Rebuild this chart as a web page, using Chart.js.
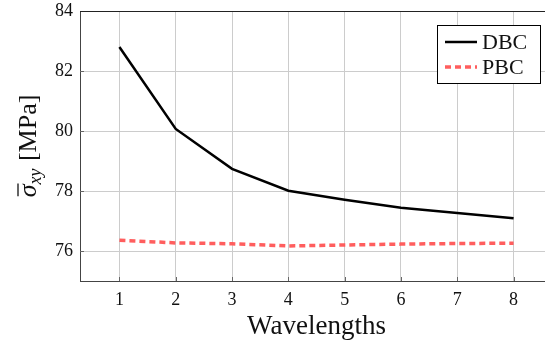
<!DOCTYPE html>
<html>
<head>
<meta charset="utf-8">
<script src="https://cdn.jsdelivr.net/npm/chart.js@4"></script>
<style>
  html, body { margin: 0; padding: 0; overflow: hidden; background: #fff; }
  #wrap { width: 553px; height: 343px; }
</style>
</head>
<body>
<div id="wrap"><canvas id="myChart" width="553" height="343"></canvas></div>
<script>
const wavelengths = [1, 2, 3, 4, 5, 6, 7, 8];
const dbcValues = [82.80, 80.07, 78.74, 78.01, 77.71, 77.44, 77.27, 77.09];
const pbcValues = [76.36, 76.27, 76.24, 76.17, 76.20, 76.23, 76.25, 76.26];
const yTicks = [76, 78, 80, 82, 84];

const serif = "'Liberation Serif', 'DejaVu Serif', serif";

// y title with overline sigma and subscript, plus boxed legend and inner tick marks
const extras = {
    id: 'extras',
    afterDraw(chart) {
        const ctx = chart.ctx;
        const area = chart.chartArea;
        const xs = chart.scales.x, ys = chart.scales.y;
        ctx.save();

        // inner tick marks
        ctx.strokeStyle = '#666';
        ctx.lineWidth = 1;
        wavelengths.forEach(v => {
            const px = Math.round(xs.getPixelForValue(v)) + 0.5;
            ctx.beginPath();
            ctx.moveTo(px, area.bottom);
            ctx.lineTo(px, area.bottom - 4);
            ctx.stroke();
        });
        yTicks.forEach(v => {
            const py = Math.round(ys.getPixelForValue(v)) + 0.5;
            ctx.beginPath();
            ctx.moveTo(area.left, py);
            ctx.lineTo(area.left + 4, py);
            ctx.stroke();
        });

        // y axis title
        ctx.translate(27, (area.top + area.bottom) / 2);
        ctx.rotate(-Math.PI / 2);
        ctx.fillStyle = '#111';
        ctx.textBaseline = 'alphabetic';
        const big = "italic 26px " + serif;
        const small = "italic 18px " + serif;
        const rom = "26px " + serif;
        ctx.font = big; const wS = ctx.measureText('σ').width;
        ctx.font = small; const wSub = ctx.measureText('xy').width;
        ctx.font = rom; const wR = ctx.measureText(' [MPa]').width;
        let x0 = -(wS + wSub + 1 + wR) / 2;
        const base = 9;
        ctx.font = big; ctx.fillText('σ', x0, base);
        ctx.lineWidth = 1.3;
        ctx.strokeStyle = '#111';
        ctx.beginPath();
        ctx.moveTo(x0 + 1, base - 18);
        ctx.lineTo(x0 + wS + 1, base - 18);
        ctx.stroke();
        ctx.font = small; ctx.fillText('xy', x0 + wS, base + 5);
        ctx.font = rom; ctx.fillText(' [MPa]', x0 + wS + wSub + 1, base);
        ctx.setTransform(1, 0, 0, 1, 0, 0);

        // legend box
        const bx = 437.5, by = 25.5, bw = 103, bh = 58;
        ctx.fillStyle = '#fff';
        ctx.fillRect(bx, by, bw, bh);
        ctx.strokeStyle = '#000';
        ctx.lineWidth = 1;
        ctx.strokeRect(bx, by, bw, bh);
        ctx.font = "22px " + serif;
        ctx.textBaseline = 'middle';
        chart.data.datasets.forEach((ds, i) => {
            const ly = 42 + i * 25;
            ctx.strokeStyle = ds.borderColor;
            ctx.lineWidth = ds.borderWidth;
            ctx.setLineDash(ds.borderDash || []);
            ctx.beginPath();
            ctx.moveTo(445, ly);
            ctx.lineTo(477, ly);
            ctx.stroke();
            ctx.setLineDash([]);
            ctx.fillStyle = '#111';
            ctx.fillText(ds.label, 482, ly + 1);
        });

        // top border
        ctx.strokeStyle = '#222';
        ctx.lineWidth = 1;
        ctx.beginPath();
        ctx.moveTo(area.left, Math.round(area.top) + 0.5);
        ctx.lineTo(area.right, Math.round(area.top) + 0.5);
        ctx.stroke();
        ctx.restore();
    }
};

const ctx = document.getElementById('myChart');
const myChart = new Chart(ctx, {
    type: 'line',
    data: {
        datasets: [{
            label: 'DBC',
            data: wavelengths.map((w, i) => ({x: w, y: dbcValues[i]})),
            borderColor: '#000',
            borderWidth: 2.5,
            pointRadius: 0,
            tension: 0,
            fill: false
        }, {
            label: 'PBC',
            data: wavelengths.map((w, i) => ({x: w, y: pbcValues[i]})),
            borderColor: 'rgba(255,85,85,0.95)',
            borderWidth: 3.5,
            borderDash: [6, 4],
            pointRadius: 0,
            tension: 0,
            fill: false
        }]
    },
    options: {
        responsive: false,
        animation: false,
        devicePixelRatio: 1,
        layout: {
            padding: {top: 11, right: 0, left: 0, bottom: 0}
        },
        plugins: {
            legend: {display: false},
            tooltip: {enabled: false}
        },
        scales: {
            x: {
                type: 'linear',
                min: 0.3,
                max: 8.7,
                afterBuildTicks: (s) => { s.ticks = wavelengths.map(v => ({value: v})); },
                afterFit: (s) => { s.height = 62; s.paddingLeft = 0; s.paddingRight = 0; },
                grid: {
                    color: '#cccccc',
                    drawTicks: false
                },
                border: {color: '#444', width: 1},
                ticks: {
                    color: '#111',
                    padding: 8,
                    font: {family: serif, size: 18}
                },
                title: {
                    display: true,
                    text: 'Wavelengths',
                    color: '#111',
                    font: {family: serif, size: 27},
                    padding: {top: 4, bottom: 0}
                }
            },
            y: {
                min: 75,
                max: 84,
                afterBuildTicks: (s) => { s.ticks = yTicks.map(v => ({value: v})); },
                afterFit: (s) => { s.width = 80; s.paddingTop = 0; s.paddingBottom = 0; },
                grid: {
                    color: '#cccccc',
                    drawTicks: false
                },
                border: {color: '#444', width: 1},
                ticks: {
                    color: '#111',
                    padding: 7,
                    font: {family: serif, size: 18}
                }
            }
        }
    },
    plugins: [extras]
});
</script>
</body>
</html>
